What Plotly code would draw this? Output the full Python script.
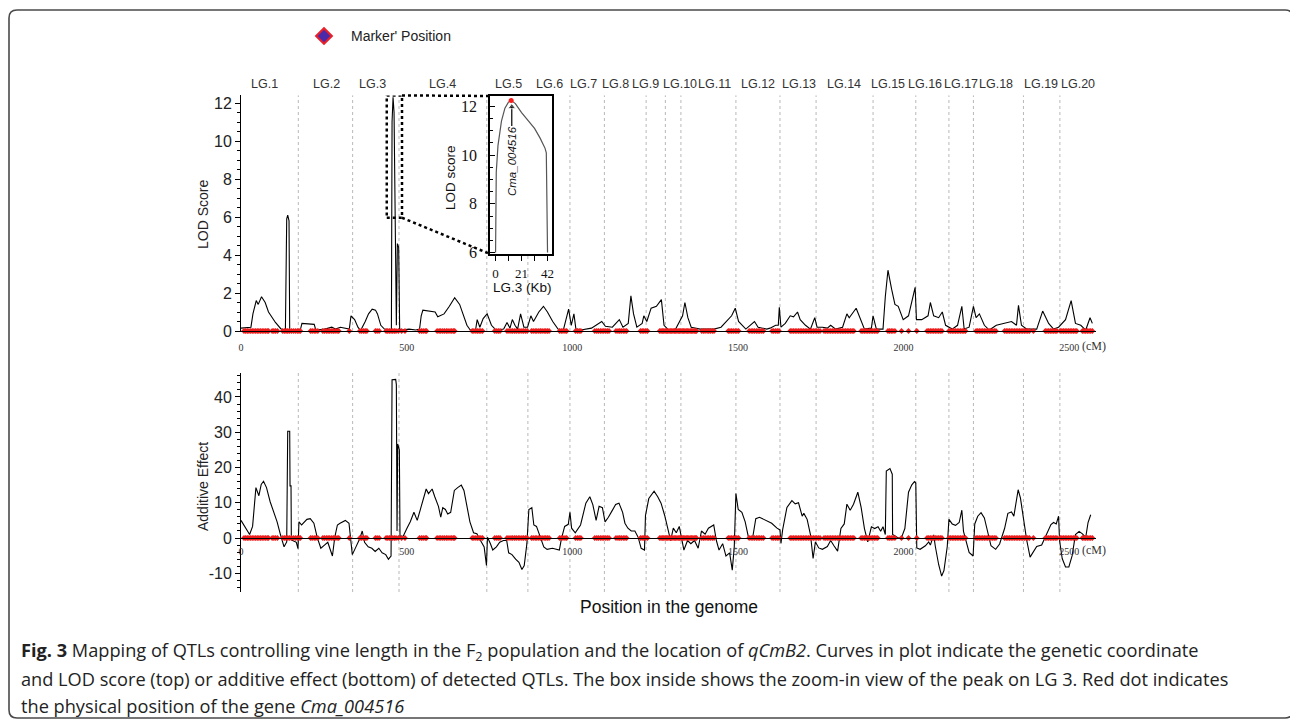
import plotly.graph_objects as go

W, H = 1290, 721

# ---------------- data ----------------
lod_pos = [0, 30, 36, 46, 52, 62, 73, 83, 104, 120, 134, 138, 141, 145, 147, 157, 179, 184, 221, 226,
           253, 274, 285, 300, 316, 327, 332, 343, 353, 361, 375, 385, 396, 406, 412, 422, 433, 449,
           454, 456, 459, 462, 466, 469, 472, 476, 479, 486, 507, 528, 539, 544, 549, 570, 586, 594,
           599, 613, 629, 645, 660, 671, 682, 692, 708, 713, 721, 731, 743, 756, 770, 793, 803, 812,
           819, 827, 835, 844, 854, 865, 875, 883, 899, 913, 925, 941, 957, 973, 989, 997, 1005, 1011,
           1026, 1058, 1089, 1100, 1121, 1142, 1153, 1169, 1177, 1185, 1195, 1211, 1216, 1225, 1238,
           1254, 1269, 1277, 1291, 1312, 1333, 1340, 1349, 1359, 1386, 1428, 1449, 1481, 1492, 1502,
           1524, 1550, 1561, 1587, 1597, 1614, 1622, 1625, 1630, 1643, 1658, 1668, 1680, 1688, 1704,
           1719, 1732, 1739, 1755, 1770, 1780, 1795, 1816, 1829, 1836, 1857, 1872, 1882, 1903, 1908,
           1918, 1938, 1945, 1953, 1964, 1974, 1984, 1999, 2015, 2030, 2035, 2039, 2055, 2074, 2081,
           2091, 2106, 2117, 2127, 2147, 2163, 2176, 2183, 2198, 2211, 2219, 2229, 2244, 2259, 2280,
           2300, 2326, 2341, 2347, 2356, 2372, 2402, 2420, 2438, 2453, 2468, 2489, 2506, 2519, 2535,
           2550, 2563, 2570]
lod_val = [0.15, 0.2, 0.9, 1.6, 1.4, 1.8, 1.5, 1.0, 0.45, 0.12, 0.02, 5.9, 6.1, 5.8, 0.05, 0.05, 0.05, 0.4, 0.35, 0.05,
           0.1, 0.2, 0.1, 0.2, 0.15, 0.1, 0.8, 0.6, 0.2, 0.02, 0.5, 0.9, 1.15, 1.1, 0.9, 0.3, 0.1, 0.05,
           0.05, 11.0, 12.3, 11.5, 6.0, 0.3, 4.6, 4.4, 0.1, 0.05, 0.1, 0.05, 0.1, 0.8, 1.1, 1.05, 1.0, 0.75,
           0.8, 0.9, 1.3, 1.75, 1.4, 0.9, 0.3, 0.05, 0.05, 0.6, 0.2, 0.65, 0.9, 0.3, 0.05, 0.1, 0.45, 0.15,
           0.6, 0.3, 0.1, 0.9, 0.2, 0.2, 0.8, 0.5, 1.0, 1.3, 1.0, 0.5, 0.1, 0.05, 1.15, 0.3, 0.9, 0.1,
           0.05, 0.15, 0.5, 0.25, 0.2, 0.6, 0.2, 0.4, 1.85, 0.9, 0.2, 0.4, 0.8, 0.5, 1.2,
           1.3, 1.65, 0.3, 0.05, 0.1, 0.8, 1.5, 0.7, 0.2, 0.1, 0.1, 0.2, 0.8, 1.2, 0.5,
           0.1, 0.5, 0.2, 0.1, 0.15, 0.3, 0.3, 1.25, 0.2, 0.4, 0.8, 0.75, 1.0, 0.6, 0.3,
           0.1, 0.7, 0.2, 0.2, 0.15, 0.3, 0.1, 0.2, 0.9, 0.7, 1.2, 0.5, 0.1, 0.15, 0.8,
           0.1, 0.1, 1.8, 3.2, 2.2, 1.4, 1.3, 0.6, 0.8, 1.9, 2.3, 0.6, 0.6, 0.8, 1.5,
           0.8, 0.7, 1.0, 0.3, 0.1, 0.3, 1.3, 0.1, 0.2, 1.3, 0.7, 0.9, 0.3, 0.05, 0.3,
           0.4, 0.5, 0.3, 1.35, 0.3, 0.1, 0.1, 1.05, 0.4, 0.1, 0.2, 0.6, 1.6, 0.4, 0.3,
           0.05, 0.7, 0.4]

add_pos = [0, 19, 26, 35, 45, 54, 61, 68, 77, 88, 98, 109, 119, 130, 138, 141, 147, 148, 151, 152,
           156, 167, 172, 175, 183, 188, 199, 209, 220, 230, 241, 252, 262, 268, 276, 283, 291, 299,
           315, 326, 336, 347, 358, 366, 373, 384, 395, 405, 416, 426, 437, 445, 453, 456, 467, 469,
           471, 473, 478, 480, 490, 501, 511, 522, 532, 543, 559, 566, 577, 585, 596, 603, 609, 617,
           624, 633, 644, 654, 665, 673, 681, 691, 702, 712, 723, 734, 741, 744, 753, 760, 771, 781,
           792, 802, 808, 818, 829, 839, 848, 855, 863, 869, 878, 884, 892, 903, 914, 924, 940, 961,
           967, 977, 988, 993, 998, 1009, 1025, 1041, 1053, 1062, 1072, 1081, 1091, 1099, 1109, 1120,
           1131, 1141, 1152, 1159, 1168, 1178, 1189, 1199, 1208, 1218, 1221, 1231, 1247, 1258, 1268,
           1279, 1290, 1297, 1305, 1314, 1323, 1329, 1337, 1348, 1358, 1369, 1380, 1390, 1401, 1411,
           1427, 1435, 1443, 1454, 1464, 1475, 1483, 1489, 1494, 1501, 1512, 1522, 1533, 1544, 1554,
           1565, 1575, 1586, 1602, 1618, 1627, 1630, 1635, 1648, 1663, 1673, 1683, 1694, 1699, 1709,
           1719, 1727, 1734, 1744, 1755, 1770, 1780, 1790, 1801, 1811, 1821, 1829, 1839, 1849, 1862,
           1872, 1882, 1892, 1903, 1913, 1923, 1931, 1938, 1945, 1948, 1959, 1966, 1967, 1984, 1994,
           2004, 2015, 2025, 2033, 2037, 2040, 2050, 2066, 2076, 2081, 2091, 2096, 2106, 2115, 2122,
           2132, 2137, 2147, 2157, 2168, 2176, 2181, 2188, 2198, 2210, 2215, 2224, 2234, 2244, 2254,
           2264, 2278, 2290, 2305, 2315, 2326, 2333, 2346, 2353, 2361, 2372, 2382, 2392, 2402, 2417,
           2433, 2445, 2453, 2461, 2468, 2471, 2479, 2489, 2499, 2509, 2519, 2530, 2540, 2550, 2557,
           2565]
add_val = [5.0, 2.0, 1.0, 3.3, 14.3, 12.0, 15.2, 16.1, 14.3, 10.3, 7.7, 4.6, 1.0, -2.5, -1.1, 30.3, 30.3, 14.8, 14.8, -0.5,
           -0.7, -1.2, -3.0, 4.6, 3.7, 4.2, 5.3, 5.5, 4.2, 0.2, -2.9, -2.0, -1.2, -2.9, -5.1, 0.2, 3.7, 4.2,
           5.0, 4.2, -4.7, -2.5, -0.3, 2.0, -1.2, -2.5, -2.9, -3.8, -2.9, -4.2, -4.7, -6.0, -5.1, 44.9, 45.0, 43.5,
           2.0, 26.7, 25.0, 0.5, 0.6, 2.8, 4.6, 7.3, 5.0, 8.6, 13.9, 12.6, 13.9, 11.7, 9.0, 5.9, 8.6, 8.1,
           6.8, 7.3, 13.5, 14.3, 15.0, 13.5, 9.5, 4.6, 1.5, 1.2, -0.7, -2.5, -7.8, 0.2, -1.6, -3.4, -2.5, -1.2,
           -0.7, -0.7, -4.2, -4.7, -6.0, -6.9, -8.9, -7.8, -1.6, 8.1, 8.6, 3.7, 3.3, 0.2, -2.5, -3.2, -2.9, -3.4,
           -0.3, 3.3, 3.9, 7.3, 2.8, 1.5, 3.7, 9.9, 11.7, 9.5, 5.0, 9.0, 8.6, 4.6, 5.9, 7.7,
           9.5, 9.9, 7.3, 4.2, 2.8, 2.0, 2.0, 0.2, -2.9, -3.4, 6.4, 11.2, 13.3, 11.7, 9.9,
           6.4, 1.5, -0.7, 2.8, 1.5, 3.3, 0.2, -3.4, -0.7, -1.6, -0.7, -2.9, 2.0, 1.1, 2.8,
           3.7, -0.7, -3.4, -1.6, -5.1, -4.2, -9.1, -2.5, 12.6, 8.1, 7.3, 4.6, -0.3, -0.2, 5.5,
           5.9, 5.5, 5.0, 4.2, 2.8, 2.3, -1.5, 2.3, 8.7, 10.6, 9.7, 10.0, 6.2, 7.0, 5.3,
           1.0, -5.8, -1.1, -2.8, -3.2, -2.4, -0.7, -2.2, -3.7, 2.7, 4.0, 9.6, 7.9, 9.6, 13.0,
           8.7, 2.7, -1.1, 3.2, 2.7, 3.2, 1.9, 3.2, 1.0, 19.0, 19.7, 18.1, 1.0, 0.0, 0.2,
           2.7, 13.0, 15.1, 16.0, 15.6, -2.8, -3.2, -2.2, -1.1, -2.0, 0.9, -2.4, -7.5, -10.8, -9.2,
           -2.4, 5.3, 4.0, 3.6, 4.4, 7.9, 1.9, -0.7, -4.1, -5.1, 4.0, 6.2, 7.2, 5.7, 1.9,
           -2.2, -3.2, -1.7, 2.7, 7.0, 7.4, 6.2, 13.7, 11.3, 6.2, -0.7, -5.4, -3.7, -2.4, -2.0,
           1.5, 3.8, 4.4, 4.0, 6.2, -0.7, -5.8, -8.2, -8.2, -5.0, 1.0, 1.9, 1.2, 0.2, 4.4,
           6.6]

marker_pos = [9, 14, 19, 24, 29, 34, 39, 44, 49, 54, 59, 64, 69, 74, 79, 83,
              94, 99, 104, 110,
              126, 131, 136, 141, 146, 152, 158, 164, 170, 175, 179,
              210, 215, 221, 226, 232,
              247, 252, 258, 263, 268, 274, 279, 284, 290, 295,
              327,
              359, 364, 370, 375, 380,
              406, 411, 417,
              438, 443, 448, 453, 458, 463, 468, 475, 485, 495,
              539, 545, 550, 556, 560,
              592, 598, 603, 609, 614, 620, 625, 631, 636, 641, 645,
              698, 703, 709, 714, 719, 724, 729,
              766, 772, 777, 782,
              803, 809, 815, 820, 826, 831, 837, 842, 848, 853, 859, 864,
              877, 882, 888, 893, 899, 904, 909, 915, 920, 925, 930,
              962, 967, 972, 978, 983,
              1010, 1016, 1021, 1026,
              1068, 1074, 1079, 1085, 1090, 1095, 1101, 1106, 1111,
              1132, 1138, 1143, 1148, 1154, 1159, 1164,
              1206, 1211, 1216, 1222, 1227,
              1264, 1268, 1272, 1276, 1280, 1284, 1288, 1292, 1296, 1300, 1304, 1308, 1312, 1316,
              1320, 1324, 1328, 1332, 1336, 1340, 1344, 1348, 1352, 1356, 1360, 1364, 1368, 1372, 1375,
              1391, 1396, 1401, 1407, 1412, 1417, 1423, 1428,
              1471, 1476, 1481, 1486, 1492, 1497, 1502,
              1534, 1540, 1545, 1550, 1556, 1561, 1566, 1572, 1577,
              1603, 1608, 1614, 1619, 1624,
              1658, 1663, 1668, 1673, 1678, 1683, 1688, 1693, 1698, 1703, 1708, 1713, 1718, 1723,
              1728, 1733, 1738, 1743, 1748,
              1760, 1765, 1770, 1775, 1780, 1785, 1790, 1795, 1800, 1805, 1810, 1815, 1820, 1825,
              1830, 1835, 1840, 1845, 1850,
              1872, 1877, 1882, 1887, 1892, 1897, 1902, 1907, 1912, 1917, 1922,
              1953, 1958, 1963, 1968, 1974,
              1994, 2015, 2040,
              2071, 2076, 2081, 2086, 2091, 2096, 2101, 2106, 2111, 2116,
              2137, 2142, 2147, 2152, 2157, 2162, 2167, 2172, 2177, 2182, 2187,
              2219, 2224, 2229, 2234, 2239, 2244, 2249, 2254, 2259, 2264, 2269, 2274, 2279,
              2305, 2310, 2315, 2320, 2325, 2330, 2335, 2340, 2345, 2350, 2355, 2360, 2365, 2370,
              2375, 2380,
              2392,
              2428, 2433, 2438, 2443, 2448, 2453, 2458, 2463,
              2473, 2478, 2483, 2488, 2493, 2498, 2503, 2508, 2513, 2518, 2523,
              2540, 2545, 2550, 2555, 2560, 2565, 2570]

lg_names = ["LG.1", "LG.2", "LG.3", "LG.4", "LG.5", "LG.6", "LG.7", "LG.8", "LG.9", "LG.10",
            "LG.11", "LG.12", "LG.13", "LG.14", "LG.15", "LG.16", "LG.17", "LG.18", "LG.19", "LG.20"]
lg_label_pos = [72, 257, 398, 607, 806, 930, 1035, 1132, 1222, 1325,
                1428, 1561, 1684, 1820, 1953, 2066, 2173, 2280, 2415, 2526]
lg_bounds = [173, 337, 477, 742, 866, 993, 1097, 1223, 1281, 1328,
             1494, 1627, 1736, 1908, 2037, 2137, 2211, 2362, 2472]

inset_kb = [0, 0.2, 0.56, 1.96, 4.76, 7.56, 10.4, 12.6, 16, 21, 26, 31.5, 36, 40, 41, 41.6, 42]
inset_lod = [6.0, 7.5, 9.3, 10.4, 11.4, 11.93, 12.18, 12.25, 12.12, 11.75, 11.45, 11.1, 10.7, 10.28, 10.1, 8.5, 6.0]
gene_kb, gene_lod = [12.6], [12.25]
gene_name = "Cma_004516"
arrow_kb = [13.1, 13.1]
arrow_lod = [11.2, 11.98]

x_ticks = [0, 500, 1000, 1500, 2000, 2500]
lod_ticks = [0, 2, 4, 6, 8, 10, 12]
add_ticks = [-10, 0, 10, 20, 30, 40]
inset_xticks = [0, 21, 42]
inset_yticks = [6, 8, 10, 12]

legend_label = "Marker' Position"

caption = [
    "<b>Fig. 3</b> Mapping of QTLs controlling vine length in the F<sub>2</sub> population and the location of "
    "<i>qCmB2</i>. Curves in plot indicate the genetic coordinate",
    "and LOD score (top) or additive effect (bottom) of detected QTLs. The box inside shows the zoom-in view "
    "of the peak on LG 3. Red dot indicates",
    "the physical position of the gene <i>Cma_004516</i>",
]

# ---------------- layout helpers ----------------
def px(x):
    return x / W


def py(y):
    return 1 - y / H


SANS = "Liberation Sans, Arial, sans-serif"
SERIF = "Liberation Serif, Times New Roman, serif"

X_RANGE = [0, 2581]
LOD_RANGE = [0, 12.4]
ADD_RANGE = [-15.3, 46.8]
IN_X = [-4.5, 45.6]
IN_Y = [5.94, 12.43]

top_dom_x = [px(241), px(1096)]
top_dom_y = [py(331), py(95.4)]
bot_dom_y = [py(592), py(373)]
in_dom_x = [px(490), px(552)]
in_dom_y = [py(254), py(96)]


def map_lin(v, r, d):
    return d[0] + (v - r[0]) / (r[1] - r[0]) * (d[1] - d[0])


def inv_lin(p, r, d):
    return r[0] + (p - d[0]) / (d[1] - d[0]) * (r[1] - r[0])


fig = go.Figure()

# main curves
fig.add_trace(go.Scatter(x=lod_pos, y=lod_val, mode="lines", line=dict(color="black", width=1.1),
                         xaxis="x", yaxis="y", showlegend=False, hoverinfo="skip"))
fig.add_trace(go.Scatter(x=marker_pos, y=[0] * len(marker_pos), mode="markers",
                         marker=dict(symbol="diamond", size=4.5, color="#ee1c1c"),
                         xaxis="x", yaxis="y", cliponaxis=False, showlegend=False, hoverinfo="skip"))
fig.add_trace(go.Scatter(x=add_pos, y=add_val, mode="lines", line=dict(color="black", width=1.1),
                         xaxis="x2", yaxis="y2", showlegend=False, hoverinfo="skip"))
fig.add_trace(go.Scatter(x=marker_pos, y=[0] * len(marker_pos), mode="markers",
                         marker=dict(symbol="diamond", size=4.5, color="#ee1c1c"),
                         xaxis="x2", yaxis="y2", cliponaxis=False, showlegend=False, hoverinfo="skip"))
# inset
fig.add_trace(go.Scatter(x=inset_kb, y=inset_lod, mode="lines", line=dict(color="#555555", width=1.2),
                         xaxis="x3", yaxis="y3", showlegend=False, hoverinfo="skip"))
fig.add_trace(go.Scatter(x=arrow_kb, y=arrow_lod, mode="lines+markers", line=dict(color="black", width=1.2),
                         marker=dict(symbol=["line-ew", "triangle-up"], size=[0, 7], color="black"),
                         xaxis="x3", yaxis="y3", showlegend=False, hoverinfo="skip", cliponaxis=False))
fig.add_trace(go.Scatter(x=gene_kb, y=gene_lod, mode="markers", marker=dict(color="#ff1a1a", size=5),
                         xaxis="x3", yaxis="y3", showlegend=False, hoverinfo="skip", cliponaxis=False))
# legend symbol on a small helper axis
fig.add_trace(go.Scatter(x=[0.5], y=[0.5], mode="markers",
                         marker=dict(symbol="diamond", size=12, color="#4a2aa8",
                                     line=dict(color="#e8202a", width=2.2)),
                         xaxis="x4", yaxis="y4", showlegend=False, hoverinfo="skip", cliponaxis=False))

shapes = []
# LG boundaries
in_left_cm = inv_lin(490, X_RANGE, (241, 1096))
in_right_cm = inv_lin(552, X_RANGE, (241, 1096))
for b in lg_bounds:
    top_y1 = 1
    if in_left_cm <= b <= in_right_cm:
        top_y1 = (331 - 254) / (331 - 95.4)
    shapes.append(dict(type="line", xref="x", yref="y domain", x0=b, x1=b, y0=0, y1=top_y1,
                       line=dict(color="#b8b8b8", width=1, dash="dot"), layer="below"))
    shapes.append(dict(type="line", xref="x2", yref="y2 domain", x0=b, x1=b, y0=0, y1=1,
                       line=dict(color="#b8b8b8", width=1, dash="dot"), layer="below"))

# zoom box on LG3 peak
box_x0, box_x1, box_y0, box_y1 = 440, 486, 5.96, 12.4
shapes.append(dict(type="rect", xref="x", yref="y", x0=box_x0, x1=box_x1, y0=box_y0, y1=box_y1,
                   line=dict(color="black", width=2.5, dash="dot")))
bx = map_lin(box_x1, X_RANGE, top_dom_x)
by_top = map_lin(box_y1, LOD_RANGE, top_dom_y)
by_bot = map_lin(box_y0, LOD_RANGE, top_dom_y)
shapes.append(dict(type="line", xref="paper", yref="paper", x0=bx, x1=in_dom_x[0], y0=by_top, y1=in_dom_y[1],
                   line=dict(color="black", width=2.5, dash="dot")))
shapes.append(dict(type="line", xref="paper", yref="paper", x0=bx, x1=in_dom_x[0], y0=by_bot, y1=in_dom_y[0],
                   line=dict(color="black", width=2.5, dash="dot")))

# rounded outer border
L, T, R, B, r = 9, 10, 1293, 718, 8
path = (f"M {px(L)},{py(T + r)} Q {px(L)},{py(T)} {px(L + r)},{py(T)} "
        f"L {px(R - r)},{py(T)} Q {px(R)},{py(T)} {px(R)},{py(T + r)} "
        f"L {px(R)},{py(B - r)} Q {px(R)},{py(B)} {px(R - r)},{py(B)} "
        f"L {px(L + r)},{py(B)} Q {px(L)},{py(B)} {px(L)},{py(B - r)} Z")
shapes.append(dict(type="path", xref="paper", yref="paper", path=path,
                   line=dict(color="#4a4a4a", width=1.6)))


def note(x, y, text, size, family=SANS, color="#222222", xref="paper", yref="paper",
         xanchor="center", yanchor="middle", angle=0):
    return dict(x=x, y=y, xref=xref, yref=yref, text=text, showarrow=False, xanchor=xanchor,
                yanchor=yanchor, textangle=angle, font=dict(family=family, size=size, color=color))


ann = []
for name, pos in zip(lg_names, lg_label_pos):
    ann.append(note(pos, py(84), name, 12.5, color="#333333", xref="x"))
ann.append(note(2532, map_lin(0, LOD_RANGE, top_dom_y) - 15 / H, "(cM)", 12, family=SERIF,
                color="#333333", xref="x", xanchor="left"))
ann.append(note(2532, map_lin(0, ADD_RANGE, bot_dom_y) - 12 / H, "(cM)", 12, family=SERIF,
                color="#333333", xref="x2", xanchor="left"))
ann.append(note(px(203), py(215), "LOD Score", 14, angle=-90))
ann.append(note(px(203), py(487), "Additive Effect", 14, angle=-90))
ann.append(note(px(669), py(607), "Position in the genome", 17.5, color="#111111"))
# inset labels
ann.append(note(px(450), py(178), "LOD score", 13.5, color="#111111", angle=-90))
ann.append(note(px(522), py(287), "LG.3 (Kb)", 13.5, color="#111111"))
ann.append(note(13.7, 9.74, f"<i>{gene_name}</i>", 11.5, color="#111111", xref="x3", yref="y3", angle=-90))
# legend text
ann.append(note(px(349), py(36), legend_label, 14, xanchor="left"))
# caption
for i, line in enumerate(caption):
    ann.append(note(px(19), py(651 + 27.5 * i), line, 18.2, family="Open Sans, sans-serif",
                    xanchor="left"))

axis_common = dict(showgrid=False, zeroline=False, automargin=False)

fig.update_layout(
    width=W, height=H, autosize=False, margin=dict(l=0, r=0, t=0, b=0),
    paper_bgcolor="white", plot_bgcolor="rgba(0,0,0,0)", template="none",
    font=dict(family=SANS, color="#222222"), showlegend=False,
    xaxis=dict(domain=top_dom_x, range=X_RANGE, anchor="y", showline=True, linecolor="black", linewidth=1,
               tickvals=x_ticks, ticks="", ticklabelstandoff=7,
               tickfont=dict(family=SERIF, size=10, color="#333333"), **axis_common),
    yaxis=dict(domain=top_dom_y, range=LOD_RANGE, anchor="x", showline=True, linecolor="black", linewidth=1,
               tickvals=lod_ticks, ticks="outside", ticklen=5, tickcolor="black",
               minor=dict(dtick=0.5, ticks="outside", ticklen=3, tickcolor="black"),
               tickfont=dict(family=SANS, size=16, color="#222222"), **axis_common),
    xaxis2=dict(domain=top_dom_x, range=X_RANGE, anchor="free", position=map_lin(0, ADD_RANGE, bot_dom_y),
                showline=True, linecolor="black", linewidth=1, tickvals=x_ticks, ticks="", ticklabelstandoff=4,
                tickfont=dict(family=SERIF, size=10, color="#333333"), **axis_common),
    yaxis2=dict(domain=bot_dom_y, range=ADD_RANGE, anchor="x2", showline=True, linecolor="black", linewidth=1,
                tickvals=add_ticks, ticktext=[str(v) for v in add_ticks], ticks="outside", ticklen=5,
                tickcolor="black",
                minor=dict(dtick=2, ticks="outside", ticklen=3, tickcolor="black"),
                tickfont=dict(family=SANS, size=16, color="#222222"), **axis_common),
    xaxis3=dict(domain=in_dom_x, range=IN_X, anchor="y3", showline=True, mirror=True, linecolor="black",
                linewidth=1.5, tickvals=inset_xticks, ticks="outside", ticklen=5, tickcolor="black",
                minor=dict(tickvals=[10.5, 31.5], ticks="outside", ticklen=5, tickcolor="black"),
                ticklabelstandoff=2, tickfont=dict(family=SERIF, size=13, color="#111111"), **axis_common),
    yaxis3=dict(domain=in_dom_y, range=IN_Y, anchor="x3", showline=True, mirror=True, linecolor="black",
                linewidth=1.5, tickvals=inset_yticks, ticks="inside", ticklen=5, tickcolor="black",
                minor=dict(dtick=0.5, ticks="inside", ticklen=3, tickcolor="black"),
                ticklabelstandoff=8, tickfont=dict(family=SERIF, size=16, color="#111111"), **axis_common),
    xaxis4=dict(domain=[px(314), px(334)], range=[0, 1], anchor="y4", visible=False),
    yaxis4=dict(domain=[py(46), py(26)], range=[0, 1], anchor="x4", visible=False),
    shapes=shapes, annotations=ann,
)

fig.write_html("out.html", include_plotlyjs=True, full_html=True, config={"displayModeBar": False},
               post_script="document.body.style.margin='0';document.body.style.overflow='hidden';")
